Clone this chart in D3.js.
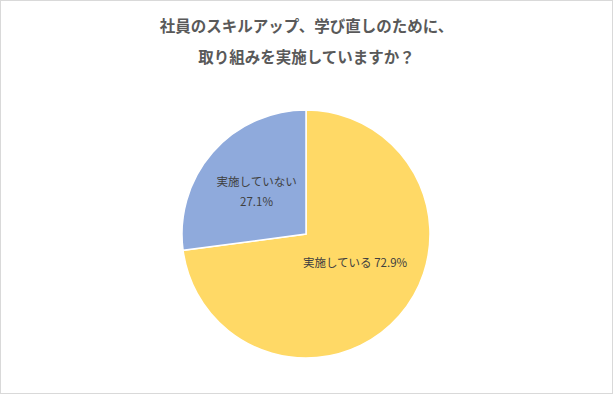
<!DOCTYPE html>
<html>
<head>
<meta charset="utf-8">
<script src="https://cdn.jsdelivr.net/npm/d3@7"></script>
<style>
  body { margin: 0; background: #fff; }
  text { font-family: "Noto Sans CJK JP", "Noto Sans", sans-serif; }
</style>
</head>
<body>
<div id="chart"></div>
<script>
// Data
var categories = ["実施している", "実施していない"];
var values = [72.9, 27.1];
var titleLines = ["社員のスキルアップ、学び直しのために、", "取り組みを実施していますか？"];

// Dimensions
var svgWidth = 613;
var svgHeight = 394;
var center = [306, 234];
var radius = 124;

var colors = d3.scaleOrdinal()
  .domain(categories)
  .range(["#FFD966", "#8FAADC"]);

var svg = d3.select("#chart")
  .append("svg")
  .attr("width", svgWidth)
  .attr("height", svgHeight);

// outer frame
svg.append("rect")
  .attr("x", 0.5)
  .attr("y", 0.5)
  .attr("width", svgWidth - 1)
  .attr("height", svgHeight - 1)
  .attr("fill", "#fff")
  .attr("stroke", "#d9d9d9");

// title
svg.selectAll("text.title")
  .data(titleLines)
  .enter()
  .append("text")
  .attr("class", "title")
  .attr("x", svgWidth / 2)
  .attr("y", function(d, i){ return 25 + i * 31; })
  .attr("text-anchor", "middle")
  .attr("dominant-baseline", "central")
  .attr("font-size", "15.5px")
  .attr("font-weight", "bold")
  .attr("fill", "#595959")
  .text(function(d){ return d; });

var pie = d3.pie().sort(null).value(function(d){ return d.value; });
var data = categories.map(function(c, i){ return {name: c, value: values[i]}; });
var arcs = pie(data);

var arc = d3.arc().innerRadius(0).outerRadius(radius);

var g = svg.append("g")
  .attr("transform", "translate(" + center[0] + "," + center[1] + ")");

g.selectAll("path")
  .data(arcs)
  .enter()
  .append("path")
  .attr("d", arc)
  .attr("fill", function(d){ return colors(d.data.name); })
  .attr("stroke", "#fff")
  .attr("stroke-width", 1.5);

// labels (label radius tuned per slice, like Excel's best fit)
var labelRadius = [0.44, 0.53];
var labelShift = [[8, -8], [0, 0]];

arcs.forEach(function(d, i){
  var la = d3.arc().innerRadius(radius * labelRadius[i]).outerRadius(radius * labelRadius[i]);
  var c = la.centroid(d);
  var x = c[0] + labelShift[i][0];
  var y = c[1] + labelShift[i][1];
  var pct = d.data.value.toFixed(1) + "%";
  var t = g.append("text")
    .attr("text-anchor", "middle")
    .attr("font-size", "11.5px")
    .attr("fill", "#404040");
  if (i === 0) {
    t.attr("x", x).attr("y", y).attr("dominant-baseline", "central")
      .text(d.data.name + " " + pct);
  } else {
    t.append("tspan").attr("x", x).attr("y", y - 10).attr("dominant-baseline", "central").text(d.data.name);
    t.append("tspan").attr("x", x).attr("y", y + 10).attr("dominant-baseline", "central").text(pct);
  }
});
</script>
</body>
</html>
